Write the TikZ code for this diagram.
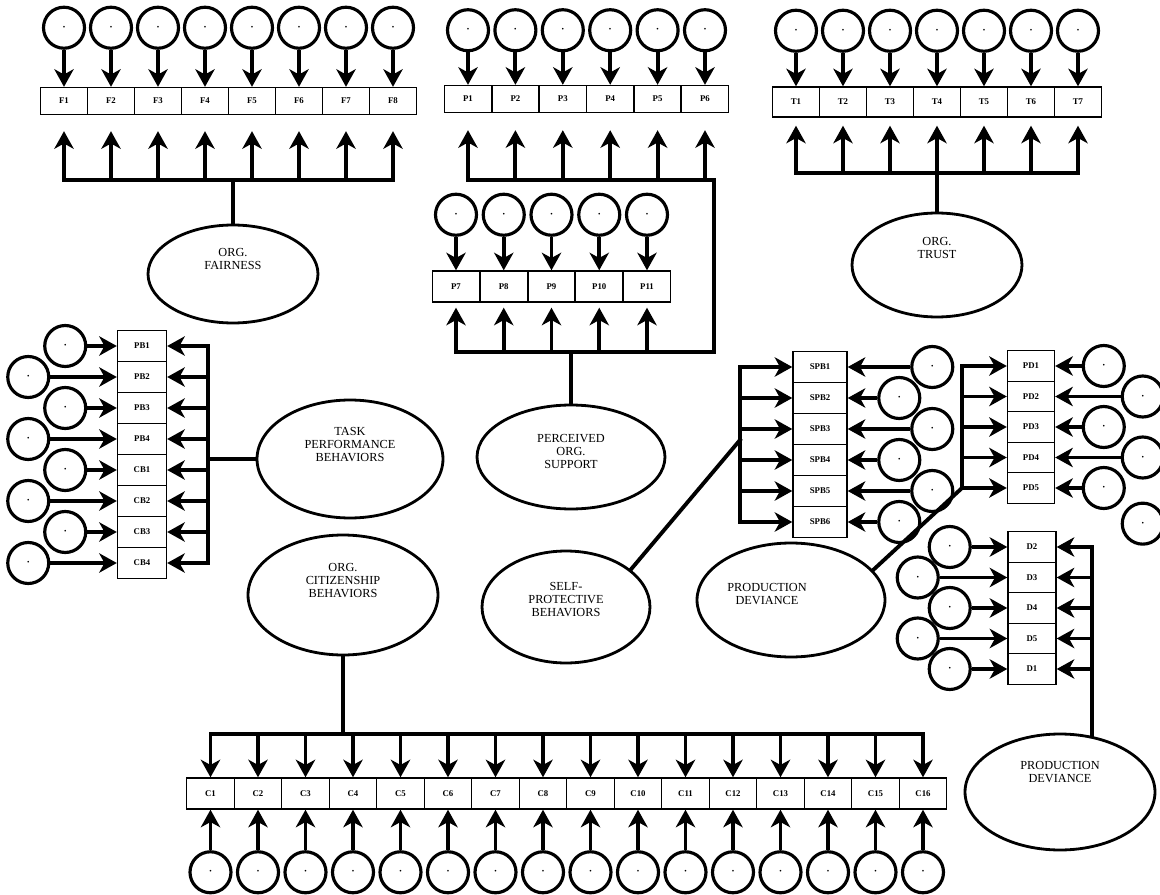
\documentclass[tikz,border=0pt]{standalone}
\usepackage{fontspec}
\setmainfont{Liberation Serif}
\usetikzlibrary{shapes.geometric, arrows.meta, positioning}

\tikzset{
  hbox/.style={draw, line width=0.8pt, minimum width=0.94cm, minimum height=0.54cm, inner sep=0pt, font=\fontsize{5}{6}\selectfont\bfseries},
  vbox/.style={hbox, minimum height=0.62cm},
  err/.style={circle, draw, line width=1.8pt, minimum size=0.82cm, inner sep=0pt, font=\fontsize{4}{4}\selectfont},
  latent/.style={ellipse, draw, line width=1.6pt, inner sep=0pt},
  ltext/.style={align=center, font=\fontsize{7}{7.4}\selectfont, yshift=0.28cm},
  arrow/.style={-{Stealth[length=10pt, width=11pt, inset=3pt]}, line width=2.2pt},
  bus/.style={line width=2.2pt, line cap=rect}
}
\newcommand{\edot}{\textbullet}

\begin{document}
\begin{tikzpicture}[x=0.02cm, y=-0.02cm]
\useasboundingbox (0,0) rectangle (1160,895);

% Latent variables
\node[latent, minimum width=3.4cm, minimum height=1.96cm, label={[ltext, yshift=0.02cm]center:{ORG.\\FAIRNESS}}] (fair) at (233,274) {};
\node[latent, minimum width=3.4cm, minimum height=2.08cm, label={[ltext, yshift=0.06cm]center:{ORG.\\TRUST}}] (trust) at (937,265) {};
\node[latent, minimum width=3.76cm, minimum height=2.08cm, label={[ltext, yshift=-0.16cm]center:{PERCEIVED\\ORG.\\SUPPORT}}] (pos) at (571,457) {};
\node[latent, minimum width=3.72cm, minimum height=2.36cm, label={[ltext]center:{TASK\\PERFORMANCE\\BEHAVIORS}}] (task) at (350,459) {};
\node[latent, minimum width=3.8cm, minimum height=2.4cm, label={[ltext]center:{ORG.\\CITIZENSHIP\\BEHAVIORS}}] (cit) at (343,595) {};
\node[latent, minimum width=3.36cm, minimum height=2.24cm, label={[ltext, yshift=-0.14cm]center:{SELF-\\PROTECTIVE\\BEHAVIORS}}] (self) at (566,607) {};
\node[latent, minimum width=3.76cm, minimum height=2.28cm, label={[ltext, yshift=-0.16cm, xshift=-0.48cm]center:{PRODUCTION\\DEVIANCE}}] (pdev1) at (791,600) {};
\node[latent, minimum width=3.8cm, minimum height=2.32cm, label={[ltext, yshift=0.12cm]center:{PRODUCTION\\DEVIANCE}}] (pdev2) at (1060,792) {};

% Org. fairness items
\foreach \i in {1,...,8} {
  \node[hbox] (f\i) at ({64+47*(\i-1)},101) {F\i};
  \node[err, above=0.74cm of f\i] (ef\i) {\edot};
  \draw[arrow] (ef\i) -- (f\i);
}
\coordinate (fbus) at (233,180);
\draw[bus] (f1 |- fbus) -- (f8 |- fbus);
\draw[bus] (fbus) -- (fair);
\foreach \i in {1,...,8}
  \draw[arrow, shorten >=0.32cm] (f\i |- fbus) -- (f\i.south);

% Perceived org. support items
\foreach \i in {1,...,6} {
  \node[hbox] (p\i) at ({468+47.4*(\i-1)},99) {P\i};
  \node[err, above=0.65cm of p\i] (ep\i) {\edot};
  \draw[arrow] (ep\i) -- (p\i);
}
\foreach \i in {7,...,11} {
  \node[vbox] (p\i) at ({456+47.75*(\i-7)},286.5) {P\i};
  \node[err, above=0.67cm of p\i] (ep\i) {\edot};
  \draw[arrow] (ep\i) -- (p\i);
}
\coordinate (pc1) at (714,180);
\coordinate (pc2) at (714,352);
\draw[bus] (p1 |- pc1) -- (pc1) -- (pc2) -- (p7 |- pc2);
\draw[bus] (pos.north |- pc2) -- (pos.north);
\foreach \i in {1,...,6}
  \draw[arrow, shorten >=0.34cm] (p\i |- pc1) -- (p\i.south);
\foreach \i in {7,...,11}
  \draw[arrow, shorten >=0.1cm] (p\i |- pc2) -- (p\i.south);

% Org. trust items
\foreach \i in {1,...,7} {
  \node[hbox, minimum height=0.6cm] (t\i) at ({796+47*(\i-1)},102) {T\i};
  \node[err, above=0.67cm of t\i] (et\i) {\edot};
  \draw[arrow] (et\i) -- (t\i);
}
\coordinate (tbus) at (937,173);
\draw[bus] (t1 |- tbus) -- (t7 |- tbus);
\draw[bus] (tbus) -- (trust);
\foreach \i in {1,...,7}
  \draw[arrow, shorten >=0.16cm] (t\i |- tbus) -- (t\i.south);

% Task performance items
\foreach \t/\d [count=\i] in {PB1/0.59, PB2/1.33, PB3/0.59, PB4/1.33, CB1/0.59, CB2/1.33, CB3/0.59, CB4/1.33} {
  \node[vbox, minimum width=0.98cm] (tp\i) at (142,{346+31*(\i-1)}) {\t};
  \node[err, left=\d cm of tp\i] (etp\i) {\edot};
  \draw[arrow] (etp\i) -- (tp\i);
}
\coordinate (lbus) at (208,459);
\draw[bus] (tp1 -| lbus) -- (tp8 -| lbus);
\draw[bus] (task.west -| lbus) -- (task.west);
\foreach \i in {1,...,8}
  \draw[arrow] (tp\i -| lbus) -- (tp\i.east);

% Org. citizenship items
\foreach \i in {1,...,16} {
  \node[vbox, minimum width=0.95cm] (c\i) at ({210.5+47.5*(\i-1)},793.5) {C\i};
  \node[err, below=0.81cm of c\i] (ec\i) {\edot};
  \draw[arrow] (ec\i) -- (c\i);
}
\coordinate (cbus) at (343,734);
\draw[bus] (c1 |- cbus) -- (c16 |- cbus);
\draw[bus] (cit.south) -- (cit.south |- cbus);
\foreach \i in {1,...,16}
  \draw[arrow] (c\i |- cbus) -- (c\i.north);

% Self-protective items
\foreach \t/\d [count=\i] in {SPB1/1.25, SPB2/0.59, SPB3/1.25, SPB4/0.59, SPB5/1.25, SPB6/0.59} {
  \node[vbox, minimum width=1.08cm] (spb\i) at (820,{367+31*(\i-1)}) {\t};
  \node[err, right=\d cm of spb\i] (espb\i) {\edot};
  \draw[arrow] (espb\i) -- (spb\i);
}
\coordinate (sbus) at (740,440);
\draw[bus] (spb1 -| sbus) -- (spb6 -| sbus);
\draw[bus] (sbus) -- (self.30);
\foreach \i in {1,...,6}
  \draw[arrow] (spb\i -| sbus) -- (spb\i.west);

% Production deviance items
\foreach \t/\d [count=\i] in {PD1/0.53, PD2/1.31, PD3/0.53, PD4/1.31, PD5/0.53} {
  \node[vbox, minimum height=0.61cm] (pd\i) at (1031,{366+30.5*(\i-1)}) {\t};
  \node[err, right=\d cm of pd\i] (epd\i) {\edot};
  \draw[arrow] (epd\i) -- (pd\i);
}
\node[err, below=0.44cm of epd4] (epd6) {\edot};
\coordinate (pdbus) at (962,426);
\draw[bus] (pd1 -| pdbus) -- (pd5 -| pdbus) -- (pdev1.20);
\foreach \i in {1,...,5}
  \draw[arrow] (pd\i -| pdbus) -- (pd\i.west);

\foreach \t/\d [count=\i] in {D2/0.71, D3/1.35, D4/0.71, D5/1.35, D1/0.71} {
  \node[vbox, minimum width=0.96cm, minimum height=0.61cm] (d\i) at (1032,{547+30.5*(\i-1)}) {\t};
  \node[err, left=\d cm of d\i] (ed\i) {\edot};
  \draw[arrow] (ed\i) -- (d\i);
}
\draw[bus] (d1.east -| pdev2.60) -- (pdev2.60);
\foreach \i in {1,...,5}
  \draw[arrow] (d\i.east -| pdev2.60) -- (d\i.east);

\end{tikzpicture}
\end{document}
